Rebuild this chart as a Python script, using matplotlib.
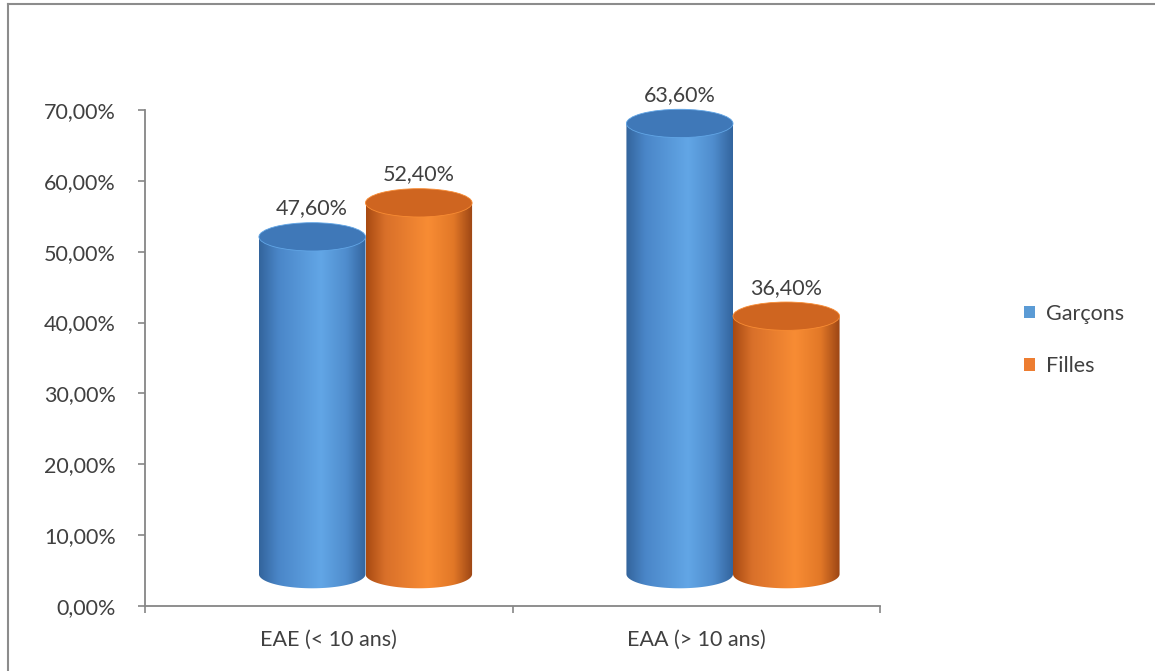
import numpy as np
import matplotlib.pyplot as plt
from matplotlib.colors import LinearSegmentedColormap
from matplotlib.patches import Ellipse, Patch, PathPatch
from matplotlib.path import Path
from matplotlib.lines import Line2D

categories = ["EAE (< 10 ans)", "EAA (> 10 ans)"]
series_names = ["Garçons", "Filles"]
garcons = [0.476, 0.636]
filles = [0.524, 0.364]
y_ticks = [0.0, 0.1, 0.2, 0.3, 0.4, 0.5, 0.6, 0.7]

plt.rcParams["font.family"] = ["Lato", "DejaVu Sans"]
TEXT = "#404040"
SPINE = "#868686"
FS = 15.5

# shading for each series: side gradient stops, top ellipse colour, legend colour
shades = {
    "Garçons": (["#33649c", "#4a86c8", "#62a6e6", "#4f8ccd", "#33659e"], "#3f78b8", "#5b9bd5"),
    "Filles": (["#a84a12", "#d9702a", "#f88c34", "#e27827", "#9c4514"], "#cf6520", "#ed7d31"),
}

fig = plt.figure(figsize=(11.55, 6.71), dpi=100)
ax = fig.add_axes([145 / 1155, 65 / 671, 735 / 1155, 496 / 671])

ax.set_xlim(0, len(categories))
ax.set_ylim(0, 0.70)

bar_w = 0.29       # cylinder width in category units
ell_h = 0.040      # height of the ellipse caps in data units
depth_dx = 0.10    # fake 3D depth shift
depth_dy = 0.045


def cylinder(cx, value, stops, top_col):
    x0, x1 = cx - bar_w / 2, cx + bar_w / 2
    base = depth_dy
    top = value + depth_dy
    t = np.linspace(np.pi, 2 * np.pi, 60)
    arc = np.column_stack([cx + bar_w / 2 * np.cos(t), base + ell_h / 2 * np.sin(t)])
    verts = np.vstack([[[x0, top]], arc, [[x1, top]], [[x0, top]]])
    codes = [Path.MOVETO] + [Path.LINETO] * (len(verts) - 2) + [Path.CLOSEPOLY]
    body = PathPatch(Path(verts, codes), facecolor="none", edgecolor="none")
    ax.add_patch(body)
    cmap = LinearSegmentedColormap.from_list("c", list(zip([0, 0.18, 0.58, 0.82, 1.0], stops)))
    grad = np.linspace(0, 1, 256).reshape(1, -1)
    im = ax.imshow(grad, cmap=cmap, aspect="auto", interpolation="bilinear",
                   extent=(x0, x1, base - ell_h, top), zorder=2)
    im.set_clip_path(body)
    cap = Ellipse((cx, top), bar_w, ell_h, facecolor=top_col, edgecolor=stops[2],
                  linewidth=0.6, zorder=3, clip_on=False)
    ax.add_patch(cap)
    label = f"{value * 100:.2f}%".replace(".", ",")
    ax.annotate(label, (cx, top + ell_h / 2), xytext=(0, 3), textcoords="offset points",
                ha="center", va="bottom", fontsize=FS, color=TEXT, zorder=5,
                annotation_clip=False)


for i, cat in enumerate(categories):
    center = i + 0.5 + depth_dx
    for j, (name, vals) in enumerate(zip(series_names, [garcons, filles])):
        stops, top_col, _ = shades[name]
        cylinder(center + (j - 0.5) * bar_w, vals[i], stops, top_col)

# axes styling
for side in ["top", "right"]:
    ax.spines[side].set_visible(False)
for side in ["left", "bottom"]:
    ax.spines[side].set_color(SPINE)
    ax.spines[side].set_linewidth(1.3)

ax.set_yticks(y_ticks)
ax.set_yticklabels([f"{v * 100:.2f}%".replace(".", ",") for v in y_ticks])
ax.tick_params(axis="y", colors=SPINE, labelcolor=TEXT, labelsize=FS, length=5, width=1.2, pad=16)

ax.set_xticks(range(len(categories) + 1))
ax.set_xticklabels([])
ax.set_xticks([i + 0.5 for i in range(len(categories))], minor=True)
ax.set_xticklabels(categories, minor=True)
ax.tick_params(axis="x", which="major", colors=SPINE, length=5, width=1.2)
ax.tick_params(axis="x", which="minor", length=0, labelcolor=TEXT, labelsize=FS, pad=17)

handles = [Patch(facecolor=shades[n][2], edgecolor="none") for n in series_names]
fig.legend(handles, series_names, loc="center left", bbox_to_anchor=(1005 / 1155, 1 - 340 / 671),
           frameon=False, fontsize=FS, labelcolor=TEXT, handlelength=0.5, handleheight=0.5,
           handletextpad=0.5, labelspacing=1.5)

# chart frame (cropped on the right and bottom)
fig.add_artist(Line2D([8 / 1155, 8 / 1155], [0, 1 - 4 / 671], color="#8c8c8c", linewidth=1.5))
fig.add_artist(Line2D([8 / 1155, 1], [1 - 4 / 671, 1 - 4 / 671], color="#8c8c8c", linewidth=1.5))

fig.savefig("out.png", dpi=100)
